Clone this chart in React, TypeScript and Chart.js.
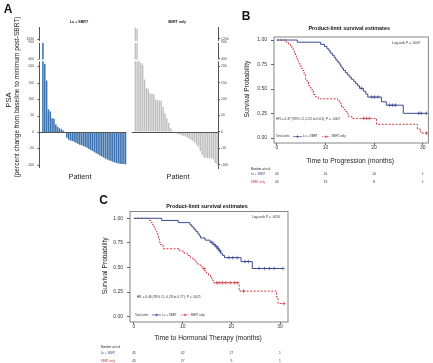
import React, { useEffect, useRef } from "react";
import { Chart, registerables } from "chart.js";

Chart.register(...registerables);

const FONT = "'Liberation Sans', Arial, Helvetica, sans-serif";
const BLUE = "#3b4a8f";
const RED = "#c9393f";

// ---------------- Panel A: waterfall of PSA change (%) ----------------
const luSbrtPsaChange = [
  880, 208, 157, 69, 62, 42, 40, 23, 16, 11, 8, 4,
  -3, -18, -24, -26, -28, -30, -33, -36, -39, -41, -43, -45, -48, -52, -55, -58,
  -62, -65, -68, -72, -75, -78, -81, -84, -86, -89, -91, -93, -95, -96, -97, -98, -98, -99,
];
const sbrtOnlyPsaChange = [
  1580, 1540, 370, 210, 205, 160, 135, 132, 118, 116, 115, 98, 97, 96, 95, 76, 57, 42, 27, 12, 4,
  -3, -4, -6, -8, -10, -12, -14, -17, -20, -24, -28, -32, -39, -45, -58, -70, -78, -79, -80, -80,
  -81, -84, -95, -98,
];
const psaTickValues = [-100, -50, 0, 50, 100, 150, 200, 400, 900, 1200];
// broken axis: raw value -> axis units
const psaAxisRaw = [-200, 210, 400, 900, 1200, 1600];
const psaAxisShown = [-200, 210, 222.6, 274.4, 283.5, 320];
const psaAxisBreaks = [218, 274.4];

function toAxis(v: number): number {
  for (let i = 1; i < psaAxisRaw.length; i++) {
    if (v <= psaAxisRaw[i] || i === psaAxisRaw.length - 1) {
      const r0 = psaAxisRaw[i - 1], r1 = psaAxisRaw[i];
      const s0 = psaAxisShown[i - 1], s1 = psaAxisShown[i];
      return s0 + ((v - r0) * (s1 - s0)) / (r1 - r0);
    }
  }
  return v;
}

// ---------------- Panel B: time to progression ----------------
const progLuTimes = [0, 4.2, 9.0, 9.8, 10.3, 10.7, 11.0, 11.4, 11.8, 12.1, 12.4, 12.8, 13.1, 13.4, 13.7, 14.1, 14.5, 14.9, 15.3, 15.8, 16.2, 16.6, 17.0, 17.8, 18.3, 18.7, 21.5, 22.5, 26.0, 30.8];
const progLuSurv = [1, 0.978, 0.956, 0.933, 0.911, 0.889, 0.867, 0.844, 0.822, 0.8, 0.778, 0.756, 0.733, 0.711, 0.689, 0.667, 0.644, 0.622, 0.6, 0.578, 0.556, 0.533, 0.507, 0.478, 0.448, 0.418, 0.37, 0.335, 0.252, 0.252];
const progLuCensor = [17.4, 19.5, 20.1, 20.8, 23.2, 23.8, 24.4, 29.2, 29.7, 30.8];
const progSbrtTimes = [0, 1.9, 2.4, 2.8, 3.1, 3.4, 3.6, 3.8, 4.0, 4.2, 4.4, 4.6, 4.9, 5.3, 5.6, 5.9, 6.2, 6.5, 6.9, 7.2, 7.5, 7.9, 8.5, 12.5, 12.9, 13.3, 13.8, 14.2, 14.6, 15.4, 20.5, 28.9, 29.6, 30.8];
const progSbrtSurv = [1, 0.978, 0.956, 0.933, 0.911, 0.889, 0.867, 0.844, 0.822, 0.8, 0.778, 0.756, 0.711, 0.689, 0.644, 0.6, 0.578, 0.533, 0.511, 0.489, 0.444, 0.422, 0.4, 0.378, 0.356, 0.311, 0.289, 0.267, 0.222, 0.2, 0.14, 0.09, 0.05, 0.05];
const progSbrtCensor = [17.8, 18.4, 19.0, 30.8];
const progRiskLu = [45, 41, 14, 1];
const progRiskSbrt = [45, 19, 8, 1];

// ---------------- Panel C: time to hormonal therapy ----------------
const hormLuTimes = [0, 5.7, 9.1, 11.5, 11.9, 12.3, 12.7, 13.1, 13.4, 13.7, 14.6, 15.6, 16.2, 16.7, 17.2, 17.5, 17.8, 18.2, 18.6, 22.0, 24.3, 30.6];
const hormLuSurv = [1, 0.978, 0.956, 0.933, 0.911, 0.889, 0.867, 0.844, 0.822, 0.8, 0.778, 0.756, 0.733, 0.711, 0.689, 0.667, 0.644, 0.622, 0.6, 0.56, 0.49, 0.49];
const hormLuCensor = [16.0, 16.5, 17.0, 17.3, 17.7, 19.5, 20.3, 21.2, 22.8, 23.5, 25.7, 26.8, 27.8, 28.8, 30.6];
const hormSbrtTimes = [0, 3.1, 3.5, 3.8, 4.1, 4.3, 4.5, 4.7, 4.9, 5.0, 5.2, 5.4, 6.0, 9.4, 10.3, 11.0, 11.6, 12.1, 12.6, 13.1, 13.6, 14.0, 14.5, 14.9, 15.3, 15.7, 16.0, 16.3, 21.6, 29.3, 29.6, 30.8];
const hormSbrtSurv = [1, 0.978, 0.956, 0.933, 0.911, 0.889, 0.867, 0.844, 0.822, 0.8, 0.756, 0.733, 0.69, 0.667, 0.644, 0.622, 0.6, 0.578, 0.556, 0.533, 0.511, 0.489, 0.467, 0.444, 0.42, 0.397, 0.372, 0.345, 0.26, 0.2, 0.133, 0.133];
const hormSbrtCensor = [14.4, 17.0, 17.5, 18.2, 18.9, 19.8, 20.6, 21.2, 22.5, 30.8];
const hormRiskLu = [45, 42, 17, 1];
const hormRiskSbrt = [45, 27, 9, 1];

const riskTimes = [0, 10, 20, 30];
const monthTicks = [0, 10, 20, 30];
const survTicks = [0, 0.25, 0.5, 0.75, 1];

function survAt(times: number[], surv: number[], t: number): number {
  let s = surv[0];
  for (let i = 0; i < times.length; i++) if (times[i] <= t) s = surv[i];
  return s;
}

// ---------------- Panel A chart ----------------
function makePsaChart(canvas: HTMLCanvasElement, values: number[], o: any) {
  const decor = {
    id: "psaDecor",
    afterDatasetsDraw(chart: any) {
      const { ctx, chartArea: a, scales } = chart;
      const y = scales.y;
      ctx.save();
      const axisX = o.side === "left" ? a.left - o.axisGap : a.right;
      if (o.side === "left") {
        // own axis line with ticks, set off from the bars
        ctx.strokeStyle = "#555";
        ctx.lineWidth = 1;
        ctx.beginPath();
        ctx.moveTo(Math.round(axisX) + 0.5, a.top);
        ctx.lineTo(Math.round(axisX) + 0.5, a.bottom);
        psaTickValues.forEach((v) => {
          const py = Math.round(y.getPixelForValue(toAxis(v))) + 0.5;
          ctx.moveTo(Math.round(axisX) + 0.5, py);
          ctx.lineTo(Math.round(axisX) - 1.5, py);
        });
        ctx.stroke();
      }
      ctx.fillStyle = "#ffffff";
      const bx0 = Math.min(axisX, a.left) - 2;
      const bx1 = Math.max(axisX, a.right) + 2;
      psaAxisBreaks.forEach((b) => {
        const py = y.getPixelForValue(b);
        ctx.fillRect(bx0, py - 0.9, bx1 - bx0, 1.8);
      });
      const zy = Math.round(y.getPixelForValue(0)) + 0.5;
      ctx.strokeStyle = "#555";
      ctx.lineWidth = 1;
      ctx.beginPath();
      ctx.moveTo(o.side === "left" ? axisX : a.left - o.zeroExt, zy);
      ctx.lineTo(o.side === "left" ? a.right - 0.5 : a.right, zy);
      ctx.stroke();
      ctx.restore();
    },
  };
  return new Chart(canvas, {
    type: "bar",
    data: {
      labels: values.map((_, i) => String(i + 1)),
      datasets: [
        {
          data: values.map((v) => toAxis(v)),
          backgroundColor: o.color,
          borderWidth: 0,
          barPercentage: o.barPct,
          categoryPercentage: 1,
        },
      ],
    },
    options: {
      animation: false,
      responsive: false,
      devicePixelRatio: 1,
      events: [],
      layout: { padding: { top: 12, bottom: 19, left: o.padLeft, right: o.padRight } },
      plugins: { legend: { display: false }, tooltip: { enabled: false } },
      scales: {
        x: { type: "category", offset: true, display: false },
        y: {
          position: o.side,
          min: -110,
          max: 320,
          afterFit: (s: any) => {
            s.width = o.axisW;
          },
          afterBuildTicks: (s: any) => {
            s.ticks = psaTickValues.map((v) => ({ value: toAxis(v) }));
          },
          ticks: {
            autoSkip: false,
            font: { size: 3.4, family: FONT },
            color: "#444",
            padding: o.tickPad,
            callback: (_v: any, i: number) => String(psaTickValues[i]),
          },
          grid: o.side === "left"
            ? { display: false, drawTicks: false }
            : { drawOnChartArea: false, tickLength: 2, color: "#555" },
          border: { display: o.side !== "left", color: "#555", width: 1 },
        },
      },
    },
    plugins: [decor],
  } as any);
}

// ---------------- Panels B & C chart ----------------
function legendLine(ctx: any, x0: number, x1: number, y: number, color: string, dash: number[]) {
  ctx.save();
  ctx.strokeStyle = color;
  ctx.lineWidth = 0.7;
  ctx.setLineDash(dash);
  ctx.beginPath();
  ctx.moveTo(x0, y);
  ctx.lineTo(x1, y);
  ctx.stroke();
  ctx.setLineDash([]);
  const m = (x0 + x1) / 2;
  ctx.beginPath();
  ctx.moveTo(m - 1.3, y);
  ctx.lineTo(m + 1.3, y);
  ctx.moveTo(m, y - 1.3);
  ctx.lineTo(m, y + 1.3);
  ctx.stroke();
  ctx.restore();
}

function makeKmChart(canvas: HTMLCanvasElement, c: any) {
  const decor = {
    id: "kmDecor",
    afterDraw(chart: any) {
      const { ctx, chartArea: a, scales } = chart;
      const x = scales.x, y = scales.y;
      ctx.save();
      ctx.strokeStyle = "#666";
      ctx.lineWidth = 0.8;
      ctx.strokeRect(a.left, a.top, a.right - a.left, a.bottom - a.top);

      const cx = (a.left + a.right) / 2;
      ctx.textAlign = "center";
      ctx.textBaseline = "middle";
      ctx.fillStyle = "#111";
      ctx.font = `bold 5.4px ${FONT}`;
      ctx.fillText("Product-limit survival estimates", cx - 2, a.top + c.titleDy);

      ctx.fillStyle = "#222";
      ctx.font = `6.7px ${FONT}`;
      ctx.fillText(c.xTitle, cx - 1, a.bottom + c.xTitleDy);
      ctx.save();
      ctx.translate(a.left + c.yTitleDx, (a.top + a.bottom) / 2 - 1);
      ctx.rotate(-Math.PI / 2);
      ctx.fillText("Survival Probability", 0, 0);
      ctx.restore();

      ctx.fillStyle = "#333";
      ctx.font = `3.3px ${FONT}`;
      ctx.textAlign = "right";
      ctx.fillText(c.logRank, a.right - 8, a.top + 6);
      ctx.textAlign = "left";
      ctx.fillText(c.hr, a.left + c.hrDx, y.getPixelForValue(c.hrS));

      const ly = y.getPixelForValue(c.legendS);
      const lx = a.left + c.legendDx;
      ctx.font = `3px ${FONT}`;
      ctx.fillText("Total units", lx, ly);
      legendLine(ctx, lx + 17, lx + 26, ly, BLUE, []);
      ctx.fillStyle = "#333";
      ctx.fillText("Lu + SBRT", lx + 27, ly);
      legendLine(ctx, lx + 46, lx + 54, ly, RED, [1.5, 1]);
      ctx.fillStyle = "#333";
      ctx.fillText("SBRT only", lx + 55.5, ly);

      // number at risk table
      const rx = a.left + c.riskDx;
      ctx.font = `3px ${FONT}`;
      ctx.fillStyle = "#222";
      ctx.fillText("Number at risk", rx, a.bottom + c.riskDy[0]);
      ctx.fillStyle = BLUE;
      ctx.fillText("Lu + SBRT", rx, a.bottom + c.riskDy[1]);
      ctx.fillStyle = RED;
      ctx.fillText("SBRT only", rx, a.bottom + c.riskDy[2]);
      ctx.textAlign = "center";
      ctx.fillStyle = "#333";
      ctx.font = `3.3px ${FONT}`;
      riskTimes.forEach((t, i) => {
        const px = x.getPixelForValue(t);
        ctx.fillText(String(c.riskLu[i]), px, a.bottom + c.riskDy[1]);
        ctx.fillText(String(c.riskSbrt[i]), px, a.bottom + c.riskDy[2]);
      });
      ctx.restore();
    },
  };

  const line = (times: number[], surv: number[], color: string, dash: number[]) => ({
    type: "line",
    data: times.map((t, i) => ({ x: t, y: surv[i] })),
    stepped: "before",
    borderColor: color,
    borderWidth: 1,
    borderDash: dash,
    pointRadius: 0,
    fill: false,
  });
  const marks = (cens: number[], times: number[], surv: number[], color: string) => ({
    type: "line",
    showLine: false,
    data: cens.map((t) => ({ x: t, y: survAt(times, surv, t) })),
    pointStyle: "cross",
    pointRadius: 1.8,
    pointBorderWidth: 0.7,
    pointBorderColor: color,
    borderColor: color,
  });

  return new Chart(canvas, {
    type: "line",
    data: {
      datasets: [
        line(c.luTimes, c.luSurv, BLUE, []),
        line(c.sbrtTimes, c.sbrtSurv, RED, [2, 1.5]),
        marks(c.luCensor, c.luTimes, c.luSurv, BLUE),
        marks(c.sbrtCensor, c.sbrtTimes, c.sbrtSurv, RED),
      ],
    },
    options: {
      animation: false,
      responsive: false,
      devicePixelRatio: 1,
      events: [],
      layout: { padding: { top: c.padTop, right: c.padRight, left: 0, bottom: 0 } },
      plugins: { legend: { display: false }, tooltip: { enabled: false } },
      scales: {
        x: {
          type: "linear",
          min: c.xMin,
          max: c.xMax,
          afterFit: (s: any) => {
            s.height = c.xAxisH;
          },
          afterBuildTicks: (s: any) => {
            s.ticks = monthTicks.map((v) => ({ value: v }));
          },
          ticks: { font: { size: 5, family: FONT }, color: "#333", padding: 0, maxRotation: 0, autoSkip: false },
          grid: { drawOnChartArea: false, tickLength: 2, color: "#666" },
          border: { display: false },
        },
        y: {
          type: "linear",
          min: c.yMin,
          max: c.yMax,
          afterFit: (s: any) => {
            s.width = c.yAxisW;
          },
          afterBuildTicks: (s: any) => {
            s.ticks = survTicks.map((v) => ({ value: v }));
          },
          ticks: {
            font: { size: 5, family: FONT },
            color: "#333",
            padding: 4,
            autoSkip: false,
            callback: (v: any) => Number(v).toFixed(2),
          },
          grid: { drawOnChartArea: false, tickLength: 3, color: "#666" },
          border: { display: false },
        },
      },
    },
    plugins: [decor],
  } as any);
}

function drawOverlay(canvas: HTMLCanvasElement) {
  const ctx = canvas.getContext("2d")!;
  ctx.clearRect(0, 0, canvas.width, canvas.height);
  ctx.textAlign = "center";
  ctx.textBaseline = "middle";
  ctx.fillStyle = "#111";
  ctx.font = `bold 12px ${FONT}`;
  ctx.fillText("A", 8, 9.5);
  ctx.fillText("B", 246, 16.5);
  ctx.fillText("C", 103.5, 200.5);

  ctx.fillStyle = "#222";
  ctx.save();
  ctx.translate(9, 100);
  ctx.rotate(-Math.PI / 2);
  ctx.font = `7.5px ${FONT}`;
  ctx.fillText("PSA", 0, 0);
  ctx.restore();
  ctx.save();
  ctx.translate(17, 97);
  ctx.rotate(-Math.PI / 2);
  ctx.font = `6.6px ${FONT}`;
  ctx.fillText("(percent change from baseline to minimum post-SBRT)", 0, 0);
  ctx.restore();

  ctx.font = `bold 3.6px ${FONT}`;
  ctx.fillText("Lu + SBRT", 79, 22);
  ctx.fillText("SBRT only", 177, 22);
  ctx.font = `7.4px ${FONT}`;
  ctx.fillText("Patient", 80, 176.5);
  ctx.fillText("Patient", 178, 177);
}

export default function App() {
  const aLeft = useRef<HTMLCanvasElement>(null);
  const aRight = useRef<HTMLCanvasElement>(null);
  const bRef = useRef<HTMLCanvasElement>(null);
  const cRef = useRef<HTMLCanvasElement>(null);
  const overlay = useRef<HTMLCanvasElement>(null);

  useEffect(() => {
    const charts: any[] = [];
    charts.push(
      makePsaChart(aLeft.current!, luSbrtPsaChange, {
        side: "left", color: "#3e74b0", barPct: 0.85,
        padLeft: 0, padRight: 1.4, axisW: 42, tickPad: 8, axisGap: 3.5, zeroExt: 0,
      })
    );
    charts.push(
      makePsaChart(aRight.current!, sbrtOnlyPsaChange, {
        side: "right", color: "#bdbdbd", barPct: 0.75,
        padLeft: 6.3, padRight: 0, axisW: 18, tickPad: 1, axisGap: 0, zeroExt: 2.6,
      })
    );
    charts.push(
      makeKmChart(bRef.current!, {
        luTimes: progLuTimes, luSurv: progLuSurv, luCensor: progLuCensor,
        sbrtTimes: progSbrtTimes, sbrtSurv: progSbrtSurv, sbrtCensor: progSbrtCensor,
        riskLu: progRiskLu, riskSbrt: progRiskSbrt,
        xMin: -0.6, xMax: 31.15, yMin: -0.051, yMax: 1.031,
        padTop: 19, padRight: 4, yAxisW: 38, xAxisH: 47,
        titleDy: -8, xTitle: "Time to Progression (months)", xTitleDy: 17.7, yTitleDx: -27,
        logRank: "Log-rank P = .0007", hr: "HR = 0.37 (95% CI, 0.22 to 0.61); P = .0007",
        hrDx: 2, hrS: 0.19, legendDx: 2, legendS: 0.014,
        riskDx: -23.3, riskDy: [26, 31.3, 38.7],
      })
    );
    charts.push(
      makeKmChart(cRef.current!, {
        luTimes: hormLuTimes, luSurv: hormLuSurv, luCensor: hormLuCensor,
        sbrtTimes: hormSbrtTimes, sbrtSurv: hormSbrtSurv, sbrtCensor: hormSbrtCensor,
        riskLu: hormRiskLu, riskSbrt: hormRiskSbrt,
        xMin: -0.82, xMax: 31.64, yMin: -0.054, yMax: 1.069,
        padTop: 16.5, padRight: 5, yAxisW: 42, xAxisH: 41,
        titleDy: -4.5, xTitle: "Time to Hormonal Therapy (months)", xTitleDy: 16.3, yTitleDx: -25,
        logRank: "Log-rank P = .0016", hr: "HR = 0.46 (95% CI, 0.28 to 0.77); P = .0021",
        hrDx: 6.7, hrS: 0.2, legendDx: 5, legendS: 0.018,
        riskDx: -29.3, riskDy: [24.7, 31.3, 38.7],
      })
    );
    drawOverlay(overlay.current!);
    return () => charts.forEach((ch) => ch.destroy());
  }, []);

  const abs = (l: number, t: number, w: number, h: number): React.CSSProperties => ({
    position: "absolute", left: l, top: t, width: w, height: h,
  });

  return (
    <div style={{ position: "absolute", left: 0, top: 0, width: 433, height: 363, background: "#fff", overflow: "hidden" }}>
      <canvas ref={aLeft} width={128} height={172} style={abs(0, 15, 128, 172)} />
      <canvas ref={aRight} width={108} height={172} style={abs(128, 15, 108, 172)} />
      <canvas ref={bRef} width={197} height={172} style={abs(236, 18, 197, 172)} />
      <canvas ref={cRef} width={205} height={168} style={abs(88, 195, 205, 168)} />
      <canvas ref={overlay} width={433} height={363} style={{ ...abs(0, 0, 433, 363), pointerEvents: "none" }} />
    </div>
  );
}
